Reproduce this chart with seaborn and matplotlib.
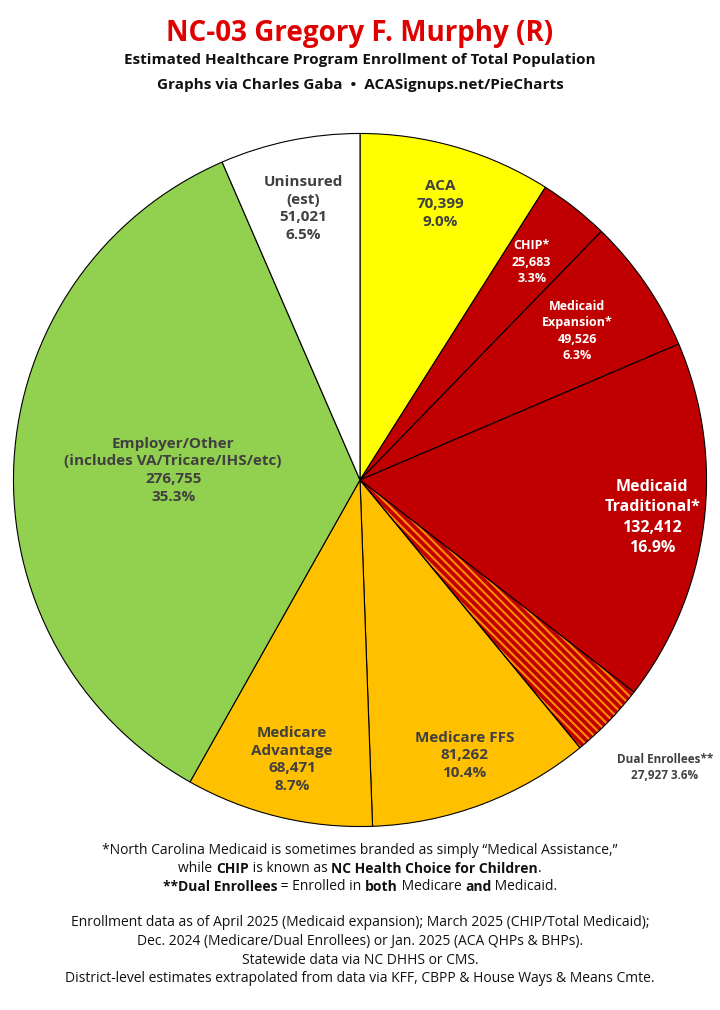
import matplotlib
matplotlib.use("Agg")
import matplotlib.pyplot as plt
from matplotlib.patches import Wedge
import numpy as np
import seaborn as sns

sns.set_theme(style="white")
plt.rcParams['font.family'] = ['Open Sans', 'DejaVu Sans']
plt.rcParams['hatch.linewidth'] = 1.5

labels = ["ACA", "CHIP*", "Medicaid\nExpansion*", "Medicaid\nTraditional*", "Dual Enrollees**",
          "Medicare FFS", "Medicare\nAdvantage", "Employer/Other\n(includes VA/Tricare/IHS/etc)", "Uninsured\n(est)"]
values = [70399, 25683, 49526, 132412, 27927, 81262, 68471, 276755, 51021]
pcts = ["9.0%", "3.3%", "6.3%", "16.9%", "3.6%", "10.4%", "8.7%", "35.3%", "6.5%"]
colors = ["#FFFF00", "#C00000", "#C00000", "#C00000", "#C00000", "#FFC000", "#FFC000", "#92D050", "#FFFFFF"]
txtcol = ["#404040", "white", "white", "white", "#404040", "#404040", "#404040", "#404040", "#404040"]
lab_r = [0.83, 0.80, 0.76, 0.85, 1.0, 0.85, 0.83, 0.54, 0.80]
lab_size = [11, 9, 9, 11.5, 8.5, 11, 11, 11, 11]

fig = plt.figure(figsize=(7.2, 10.1), dpi=100)
ax = fig.add_axes([10/720, 180/1010, 700/720, 700/1010])
wedges, _ = ax.pie(values, colors=colors, startangle=90, counterclock=False,
                   wedgeprops=dict(edgecolor="black", linewidth=0.8))
dw = wedges[4]
dw.set_hatch("\\\\\\\\")
dw.set_edgecolor("#FF8C00")
dw.set_linewidth(0)
ax.add_patch(Wedge(dw.center, dw.r, dw.theta1, dw.theta2, facecolor="none",
                   edgecolor="black", linewidth=0.8, zorder=3))
ax.set_xlim(-1.01, 1.01); ax.set_ylim(-1.01, 1.01); ax.set_aspect("equal"); ax.axis("off")

total = sum(values)
cum = 0
for i, v in enumerate(values):
    mid = 90 - 360*(cum + v/2)/total
    cum += v
    if i == 4:
        ax.text(0.88, -0.83, f"Dual Enrollees**\n{v:,} {pcts[i]}", ha="center", va="center",
                fontsize=8.5, fontweight="bold", color="#404040", linespacing=1.35)
        continue
    r = lab_r[i]
    x, y = r*np.cos(np.radians(mid)), r*np.sin(np.radians(mid))
    ax.text(x, y, f"{labels[i]}\n{v:,}\n{pcts[i]}", ha="center", va="center",
            fontsize=lab_size[i], fontweight="bold", color=txtcol[i], linespacing=1.35)

fig.text(0.5, 1-33/1010, "NC-03 Gregory F. Murphy (R)", ha="center", va="center",
         fontsize=20, fontweight="bold", color="#E00000")
fig.text(0.5, 1-60/1010, "Estimated Healthcare Program Enrollment of Total Population",
         ha="center", va="center", fontsize=11, fontweight="bold", color="#111111")
fig.text(0.5, 1-85/1010, "Graphs via Charles Gaba  •  ACASignups.net/PieCharts",
         ha="center", va="center", fontsize=11, fontweight="bold", color="#111111")

def rich_line(y, segs, size=10):
    r = fig.canvas.get_renderer()
    ts, widths = [], []
    for s, b in segs:
        t = fig.text(0, y, s, fontsize=size, fontweight="bold" if b else "normal",
                     va="center", ha="left", color="#111111")
        w = t.get_window_extent(r).width / fig.bbox.width
        ts.append(t); widths.append(w)
    x = 0.5 - sum(widths)/2
    for t, w in zip(ts, widths):
        t.set_x(x); x += w

lines = [
    (851, [("*North Carolina Medicaid is sometimes branded as simply \u201cMedical Assistance,\u201d", False)]),
    (869, [("while ", False), ("CHIP", True), (" is known as ", False), ("NC Health Choice for Children", True), (".", False)]),
    (887, [("**Dual Enrollees", True), (" = Enrolled in ", False), ("both", True), (" Medicare ", False), ("and", True), (" Medicaid.", False)]),
    (922, [("Enrollment data as of April 2025 (Medicaid expansion); March 2025 (CHIP/Total Medicaid);", False)]),
    (941, [("Dec. 2024 (Medicare/Dual Enrollees) or Jan. 2025 (ACA QHPs & BHPs).", False)]),
    (960, [("Statewide data via NC DHHS or CMS.", False)]),
    (979, [("District-level estimates extrapolated from data via KFF, CBPP & House Ways & Means Cmte.", False)]),
]
for ypx, segs in lines:
    rich_line(1 - ypx/1010, segs)

fig.savefig("out.png", dpi=100, facecolor="white")
